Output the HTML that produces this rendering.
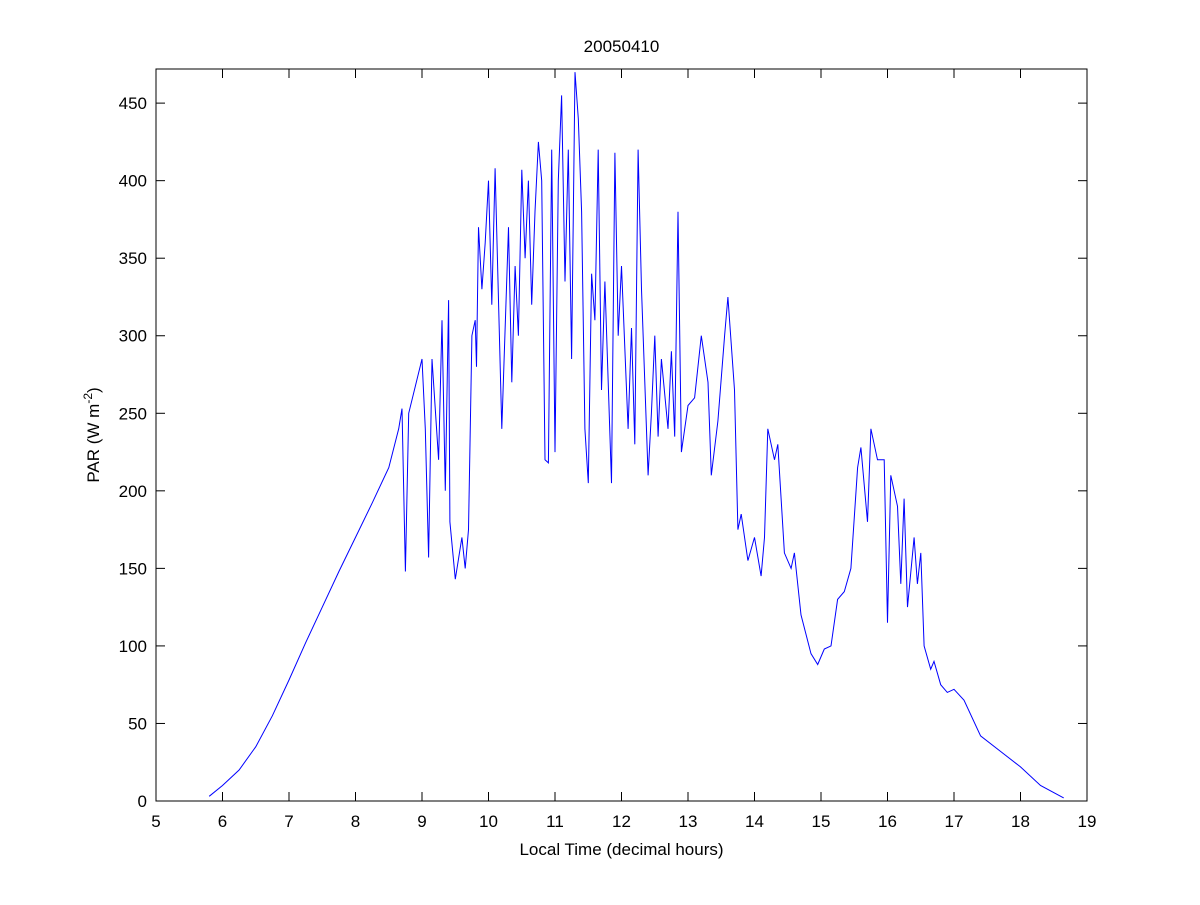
<!DOCTYPE html>
<html><head><meta charset="utf-8">
<style>
body{margin:0;background:#fff;}
svg text{font-family:"Liberation Sans",Arial,sans-serif;font-size:17px;fill:#000;}
</style></head>
<body>
<svg id="chart" width="1200" height="900"></svg>
<script>
const times=[5.8,6,6.25,6.5,6.75,7,7.25,7.5,7.75,8,8.25,8.5,8.65,8.7,8.75,8.8,9.0,9.05,9.1,9.15,9.25,9.3,9.35,9.4,9.42,9.5,9.6,9.65,9.7,9.75,9.8,9.82,9.85,9.9,9.95,10.0,10.05,10.1,10.2,10.3,10.35,10.4,10.45,10.5,10.55,10.6,10.65,10.7,10.75,10.8,10.85,10.9,10.95,11.0,11.05,11.1,11.15,11.2,11.25,11.3,11.35,11.4,11.45,11.5,11.55,11.6,11.65,11.7,11.75,11.85,11.9,11.95,12.0,12.1,12.15,12.2,12.25,12.3,12.4,12.45,12.5,12.55,12.6,12.7,12.75,12.8,12.85,12.9,13.0,13.1,13.2,13.3,13.35,13.45,13.55,13.6,13.7,13.75,13.8,13.9,14.0,14.1,14.15,14.2,14.3,14.35,14.45,14.55,14.6,14.7,14.85,14.95,15.05,15.15,15.25,15.35,15.45,15.55,15.6,15.7,15.75,15.85,15.95,16.0,16.05,16.15,16.2,16.25,16.3,16.4,16.45,16.5,16.55,16.65,16.7,16.8,16.9,17.0,17.15,17.4,17.7,18.0,18.3,18.65];
const values=[3,10,20,35,55,78,102,125,148,170,192,215,240,253,148,250,285,240,157,285,220,310,200,323,180,143,170,150,175,300,310,280,370,330,360,400,320,408,240,370,270,345,300,407,350,400,320,380,425,400,220,218,420,225,400,455,335,420,285,470,440,380,240,205,340,310,420,265,335,205,418,300,345,240,305,230,420,330,210,250,300,235,285,240,290,235,380,225,255,260,300,270,210,245,300,325,265,175,185,155,170,145,170,240,220,230,160,150,160,120,95,88,98,100,130,135,150,215,228,180,240,220,220,115,210,190,140,195,125,170,140,160,100,85,90,75,70,72,65,42,32,22,10,2];
const xTicks=[5,6,7,8,9,10,11,12,13,14,15,16,17,18,19];
const yTicks=[0,50,100,150,200,250,300,350,400,450];
const L=156,R=1087,T=69,B=801,xmin=5,xmax=19,ymin=0,ymax=472;
const sx=v=>L+(v-xmin)/(xmax-xmin)*(R-L);
const sy=v=>B-(v-ymin)/(ymax-ymin)*(B-T);
const svg=document.getElementById('chart');
const NS='http://www.w3.org/2000/svg';
function mk(tag,attrs){const e=document.createElementNS(NS,tag);for(const k in attrs)e.setAttribute(k,attrs[k]);svg.appendChild(e);return e;}
const box=mk('rect',{x:L,y:T,width:R-L,height:B-T,fill:'#fff',stroke:'#000','stroke-width':1});


xTicks.forEach(t=>{
  const x=sx(t);
  const a=mk('line',{x1:x,y1:B,x2:x,y2:B-9,stroke:'#000'});
  
  
  mk('line',{x1:x,y1:T,x2:x,y2:T+9,stroke:'#000'});
  const tx=mk('text',{x:x,y:B+26,'text-anchor':'middle'});tx.textContent=t;
  
  
});
yTicks.forEach(t=>{
  const y=sy(t);
  const a=mk('line',{x1:L,y1:y,x2:L+9,y2:y,stroke:'#000'});
  
  
  mk('line',{x1:R,y1:y,x2:R-9,y2:y,stroke:'#000'});
  const tx=mk('text',{x:L-9,y:y+6,'text-anchor':'end'});tx.textContent=t;
  
  
});
let d='';
times.forEach((t,i)=>{d+=(i?'L':'M')+sx(t).toFixed(1)+','+sy(values[i]).toFixed(1);});
const line=mk('path',{d:d,fill:'none',stroke:'#0000ff','stroke-width':1});


const title=mk('text',{x:(L+R)/2,y:52,'text-anchor':'middle'});title.textContent='20050410';


const xl=mk('text',{x:(L+R)/2,y:855,'text-anchor':'middle'});xl.textContent='Local Time (decimal hours)';


const yl=mk('text',{x:0,y:0,'text-anchor':'middle',transform:'translate(99,435) rotate(-90)'});
yl.innerHTML='PAR (W m<tspan baseline-shift="super" font-size="12">-2</tspan>)';


</script>
</body></html>
